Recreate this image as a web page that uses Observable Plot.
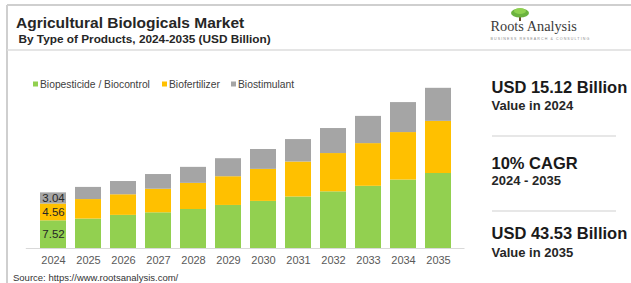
<!DOCTYPE html>
<html>
<head>
<meta charset="utf-8">
<script src="https://cdn.jsdelivr.net/npm/d3@7"></script>
<script src="https://cdn.jsdelivr.net/npm/@observablehq/plot@0.6"></script>
<style>
  html, body { margin: 0; padding: 0; background: #fff; }
  #wrap { position: relative; width: 631px; height: 283px; overflow: hidden; background: #fff; font-family: "Liberation Sans", Arial, sans-serif; }
  #overlay { position: absolute; left: 0; top: 0; }
  #chart { position: absolute; left: 0; top: 60px; }
</style>
</head>
<body>
<div id="wrap">
  <svg id="overlay" width="631" height="283" font-family="Liberation Sans, Arial, sans-serif">
    <!-- frame -->
    <line x1="7" y1="5" x2="631" y2="5" stroke="#cfcfcf" stroke-width="2"/>
    <line x1="7" y1="5" x2="7" y2="283" stroke="#cfcfcf" stroke-width="2"/>
    <line x1="7" y1="50" x2="631" y2="50" stroke="#dcdcdc" stroke-width="1.5"/>
    <!-- title -->
    <text x="16" y="28.3" font-size="15.5" font-weight="bold" fill="#262626">Agricultural Biologicals Market</text>
    <text x="18.5" y="43.3" font-size="11.8" font-weight="bold" fill="#262626">By Type of Products, 2024-2035 (USD Billion)</text>
    <!-- logo -->
    <rect x="519" y="15" width="2" height="6" fill="#6b4f2a"/>
    <ellipse cx="520" cy="13" rx="9" ry="4.5" fill="#6cb33f"/>
    <ellipse cx="520" cy="11" rx="6" ry="3" fill="#8fd14f"/>
    <text x="490.5" y="30.5" font-size="14.3" font-family="Liberation Serif, Times New Roman, serif" fill="#3a3a3a">Roots Analysis</text>
    <text x="490.5" y="40" font-size="3.6" letter-spacing="1.1" fill="#8a8a8a">BUSINESS RESEARCH &amp; CONSULTING</text>
    <!-- legend -->
    <g id="legend" font-size="10.3" fill="#404040"></g>
    <!-- right panel -->
    <text x="491.5" y="93.3" font-size="16.5" font-weight="bold" fill="#1a1a1a">USD 15.12 Billion</text>
    <text x="491.5" y="110" font-size="13" font-weight="bold" fill="#262626">Value in 2024</text>
    <line x1="492" y1="136" x2="616" y2="136" stroke="#cfcfcf" stroke-width="1.2"/>
    <text x="491.5" y="169.3" font-size="16.5" font-weight="bold" fill="#1a1a1a">10% CAGR</text>
    <text x="491.5" y="185" font-size="13" font-weight="bold" fill="#262626">2024 - 2035</text>
    <line x1="492" y1="211" x2="616" y2="211" stroke="#cfcfcf" stroke-width="1.2"/>
    <text x="491.5" y="239.3" font-size="16.5" font-weight="bold" fill="#1a1a1a">USD 43.53 Billion</text>
    <text x="491.5" y="256.7" font-size="13" font-weight="bold" fill="#262626">Value in 2035</text>
    <!-- source -->
    <text x="13" y="280.5" font-size="9.5" fill="#333">Source: https://www.rootsanalysis.com/</text>
  </svg>
  <div id="chart"></div>
</div>
<script>
const years = ["2024","2025","2026","2027","2028","2029","2030","2031","2032","2033","2034","2035"];
const biopesticide = [7.52, 8.0, 9.0, 9.7, 10.6, 11.7, 12.8, 14.0, 15.4, 16.9, 18.6, 20.38];
const biofertilizer = [4.56, 5.3, 5.6, 6.4, 7.1, 7.8, 8.7, 9.5, 10.4, 11.6, 12.9, 14.17];
const biostimulant = [3.04, 3.3, 3.6, 4.0, 4.35, 4.9, 5.4, 6.1, 6.8, 7.4, 8.15, 8.98];
const seriesNames = ["Biopesticide / Biocontrol", "Biofertilizer", "Biostimulant"];
const seriesColors = ["#92D050", "#FFC000", "#A5A5A5"];
const labelYear = "2024";

const seriesValues = [biopesticide, biofertilizer, biostimulant];
const data = years.flatMap((yr, i) =>
  seriesNames.map((name, s) => ({ year: yr, type: name, value: seriesValues[s][i] }))
);

const chart = Plot.plot({
  width: 470,
  height: 212,
  marginTop: 4,
  marginBottom: 24,
  marginLeft: 25.8,
  marginRight: 5.5,
  style: { fontFamily: "Liberation Sans, Arial, sans-serif", fontSize: "11px", color: "#595959", background: "transparent" },
  x: { domain: years, padding: 0.255, label: null, tickSize: 0, tickPadding: 8 },
  y: { domain: [0, 50], axis: null },
  color: { domain: seriesNames, range: seriesColors },
  marks: [
    Plot.barY(data, { x: "year", y: "value", fill: "type" }),
    Plot.ruleY([0], { stroke: "#d9d9d9" }),
    Plot.text(data.filter(d => d.year === labelYear),
      Plot.stackY({ x: "year", y: "value", z: "type", text: d => d.value.toFixed(2), fill: "#262626", fontSize: 11.5 }))
  ]
});
document.getElementById("chart").appendChild(chart);

// legend
const legend = d3.select("#legend");
const legendX = [33, 162, 231];
seriesNames.forEach((name, i) => {
  const g = legend.append("g").attr("transform", `translate(${legendX[i]},84)`);
  g.append("rect").attr("x", 0).attr("y", -2.5).attr("width", 5).attr("height", 5).attr("fill", seriesColors[i]);
  g.append("text").attr("x", 7).attr("y", 3.7).text(name);
});
</script>
</body>
</html>
